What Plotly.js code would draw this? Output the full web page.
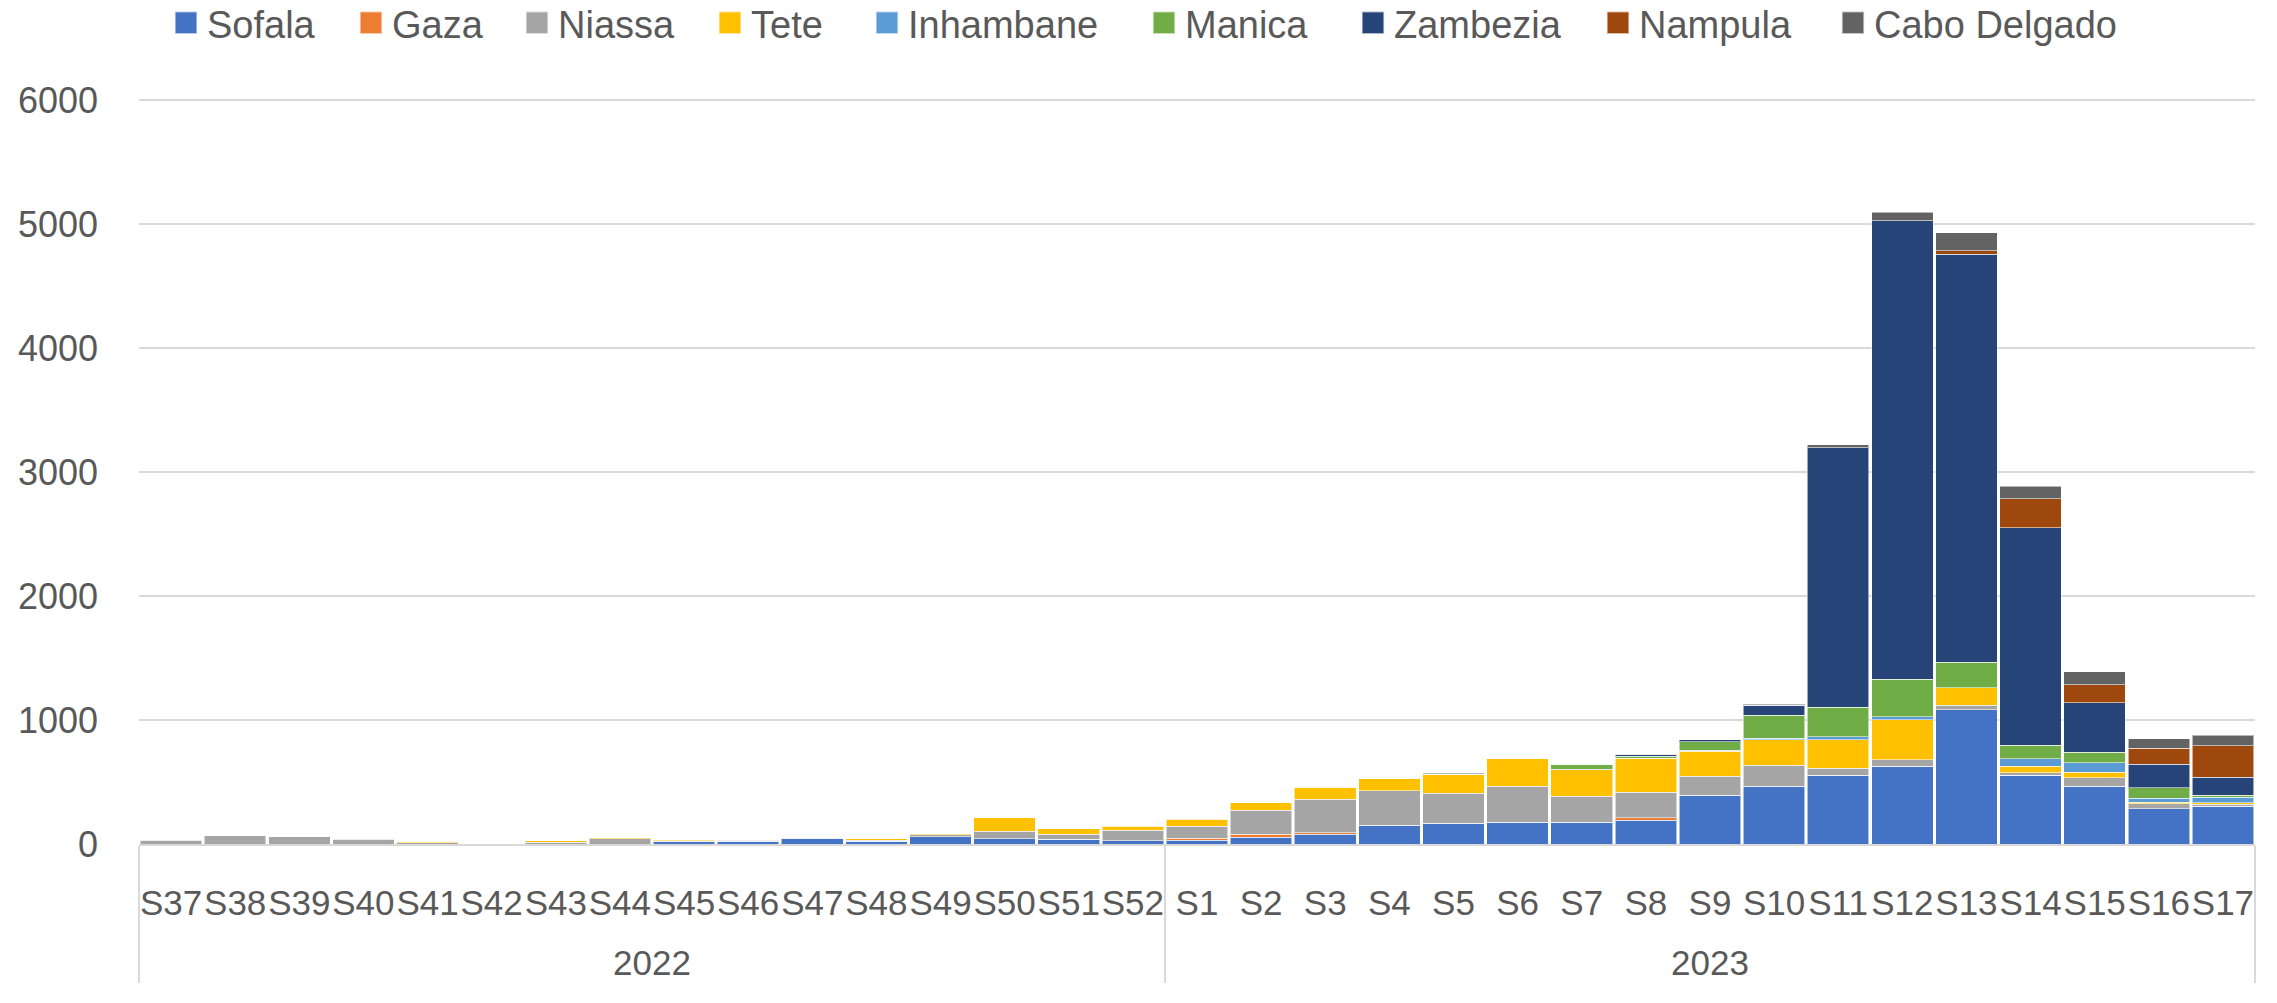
<!DOCTYPE html>
<html>
<head>
<meta charset="utf-8">
<script src="https://cdn.plot.ly/plotly-3.0.1.min.js"></script>
<style>
  html, body { margin: 0; padding: 0; background: #ffffff; }
  #chart { width: 2277px; height: 1003px; }
</style>
</head>
<body>
<div id="chart"></div>
<script>
// ---- Data ----
const years = ["2022","2022","2022","2022","2022","2022","2022","2022","2022","2022","2022","2022","2022","2022","2022","2022",
               "2023","2023","2023","2023","2023","2023","2023","2023","2023","2023","2023","2023","2023","2023","2023","2023","2023"];
const weeks = ["S37","S38","S39","S40","S41","S42","S43","S44","S45","S46","S47","S48","S49","S50","S51","S52",
               "S1","S2","S3","S4","S5","S6","S7","S8","S9","S10","S11","S12","S13","S14","S15","S16","S17"];

const sofala      = [0,0,0,0,0,0,0,0,22,24,46,22,57,43,38,27, 30,54,78,153,169,175,175,191,392,468,554,627,1085,554,467,286,303];
const gaza        = [0,0,0,0,0,0,0,0,0,0,0,0,0,0,0,0, 16,24,13,0,0,0,0,19,0,0,0,0,0,0,0,0,0];
const niassa      = [30,65,59,38,11,5,16,41,5,8,5,10,16,60,40,84, 96,194,272,277,240,290,209,207,154,166,56,52,35,21,66,38,18];
const tete        = [10,5,0,8,8,0,11,10,8,3,0,14,11,111,46,32, 57,59,97,102,153,223,215,277,204,207,233,324,139,52,45,14,10];
const inhambane   = [0,0,0,0,0,0,0,0,0,0,0,0,0,0,0,6, 8,5,0,0,0,0,5,0,8,14,21,25,0,63,77,31,45];
const manica      = [0,0,0,0,0,0,0,0,0,0,0,0,0,0,0,0, 0,0,5,0,0,0,38,13,67,183,241,303,206,108,84,84,18];
const zambezia    = [0,0,0,0,0,0,0,0,0,0,0,0,0,0,0,0, 0,0,0,0,0,0,0,19,16,80,2094,3697,3296,1756,400,192,143];
const nampula     = [0,0,0,0,0,0,0,0,0,0,0,0,0,0,0,0, 0,0,0,0,0,0,0,0,0,0,0,0,28,233,147,129,257];
const caboDelgado = [0,0,0,0,0,0,0,0,0,0,0,0,0,0,0,0, 0,5,5,0,8,0,0,0,0,11,21,70,143,98,104,76,84];

const seriesNames  = ["Sofala","Gaza","Niassa","Tete","Inhambane","Manica","Zambezia","Nampula","Cabo Delgado"];
const seriesValues = [sofala, gaza, niassa, tete, inhambane, manica, zambezia, nampula, caboDelgado];
const seriesColors = ["#4472C4","#ED7D31","#A5A5A5","#FFC000","#5B9BD5","#70AD47","#264478","#9E480E","#636363"];

// ---- Layout constants (not data) ----
const W = 2277, H = 1003;
const M = { l: 139, r: 22, t: 99, b: 159 };
const plotW = W - M.l - M.r;
// left edge (px) of each legend swatch in the reference
const legendSwatchLeft = [176, 361, 527, 720, 877, 1154, 1363, 1608, 1843];

// year labels sit one line lower than the week labels
const yearLabels = years.map(y => "<br>" + y);

const traces = seriesNames.map((name, i) => ({
  type: "bar",
  name: name,
  legend: i === 0 ? "legend" : "legend" + (i + 1),
  x: [yearLabels, weeks],
  y: seriesValues[i],
  marker: { color: seriesColors[i], line: { color: "rgba(255,255,255,0.55)", width: 1 } },
  hoverinfo: "x+y+name"
}));

const textColor = "#595959";
const gridColor = "#d9d9d9";

const layout = {
  width: W,
  height: H,
  paper_bgcolor: "#ffffff",
  plot_bgcolor: "#ffffff",
  barmode: "stack",
  bargap: 0.04,
  margin: { l: M.l, r: M.r, t: M.t, b: M.b, pad: 0, autoexpand: false },
  font: { family: "Liberation Sans, Arial, sans-serif", color: textColor },
  showlegend: true,
  xaxis: {
    type: "multicategory",
    showdividers: true,
    dividercolor: gridColor,
    dividerwidth: 2,
    showline: true,
    linecolor: gridColor,
    linewidth: 2,
    showgrid: false,
    ticks: "",
    tickangle: 0,
    ticklabelstandoff: 27,
    tickfont: { family: "Liberation Sans, Arial, sans-serif", size: 35, color: textColor }
  },
  yaxis: {
    range: [0, 6012],
    dtick: 1000,
    tick0: 0,
    showgrid: true,
    gridcolor: gridColor,
    gridwidth: 2,
    zeroline: false,
    showline: false,
    ticks: "",
    ticklabelstandoff: 40,
    tickfont: { family: "Liberation Sans, Arial, sans-serif", size: 36, color: textColor }
  }
};

// one single-entry legend per series, so each sits where the reference shows it
seriesNames.forEach((name, i) => {
  const key = i === 0 ? "legend" : "legend" + (i + 1);
  layout[key] = {
    orientation: "h",
    x: (legendSwatchLeft[i] - 9 - M.l) / plotW,
    xanchor: "left",
    y: 1.102,
    yanchor: "middle",
    bgcolor: "rgba(0,0,0,0)",
    font: { size: 38, color: textColor, family: "Liberation Sans, Arial, sans-serif" }
  };
});

Plotly.newPlot("chart", traces, layout, { displayModeBar: false, staticPlot: true }).then(() => {
  // enlarge the legend colour squares and bring them closer to their labels, as in the reference
  document.querySelectorAll("#chart .scrollbox").forEach(s => s.removeAttribute("clip-path"));
  document.querySelectorAll("#chart .legendpoints path").forEach(p => {
    p.setAttribute("transform", "translate(19,0) scale(1.85)");
  });
});
</script>
</body>
</html>
